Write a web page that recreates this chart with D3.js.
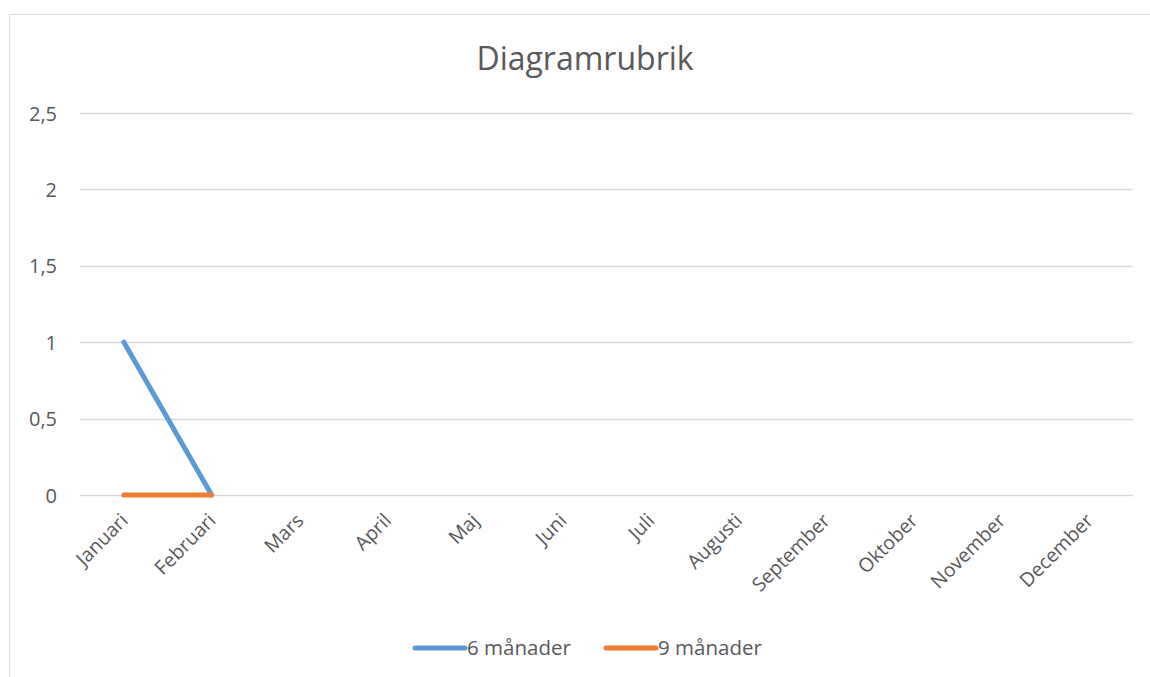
<!DOCTYPE html>
<html>
<head>
<meta charset="utf-8">
<script src="https://cdn.jsdelivr.net/npm/d3@7"></script>
<style>
  body { margin: 0; background: #fff; }
  text { font-family: "Open Sans", sans-serif; fill: #595959; }
</style>
</head>
<body>
<svg id="chart" width="1150" height="677"></svg>
<script>
var months = ["Januari", "Februari", "Mars", "April", "Maj", "Juni", "Juli",
              "Augusti", "September", "Oktober", "November", "December"];
var sex = [1, 0, null, null, null, null, null, null, null, null, null, null];
var nio = [0, 0, null, null, null, null, null, null, null, null, null, null];
var yticks = [0, 0.5, 1, 1.5, 2, 2.5];
var seriesNames = ["6 månader", "9 månader"];
var colors = ["#5B9BD5", "#ED7D31"];

var svg = d3.select("#chart");
var mLeft = 80, mRight = 1133, mTop = 113, mBottom = 495;

// chart frame
svg.append("rect")
    .attr("x", 9.5).attr("y", 14.5)
    .attr("width", 1150).attr("height", 700)
    .attr("fill", "none").attr("stroke", "#D9D9D9").attr("stroke-width", 1);

var x = d3.scalePoint().domain(months).range([mLeft, mRight]).padding(0.5);
var y = d3.scaleLinear().domain([0, 2.5]).range([mBottom, mTop]);
var fmt = function(d) { return String(d).replace(".", ","); };

// gridlines
svg.append("g").selectAll("line").data(yticks).join("line")
    .attr("x1", mLeft).attr("x2", mRight)
    .attr("y1", function(d) { return Math.round(y(d)) + 0.5; })
    .attr("y2", function(d) { return Math.round(y(d)) + 0.5; })
    .attr("stroke", "#D9D9D9").attr("stroke-width", 1.5);

var yAxis = svg.append("g")
    .attr("transform", "translate(" + (mLeft - 23) + ",0)")
    .call(d3.axisLeft(y).tickValues(yticks).tickFormat(fmt).tickSize(0));
yAxis.select(".domain").remove();
yAxis.selectAll("text").style("font-size", "20px").attr("dy", "0.35em").attr("x", 0);

var xAxis = svg.append("g")
    .attr("transform", "translate(0," + mBottom + ")")
    .call(d3.axisBottom(x).tickSize(0));
xAxis.select(".domain").remove();
xAxis.selectAll("text")
    .style("font-size", "19.5px")
    .style("text-anchor", "end")
    .attr("dy", "0.35em")
    .attr("transform", "translate(0,22) rotate(-45)")
    .attr("y", 0).attr("x", 0);

// series
var line = d3.line()
    .defined(function(d) { return d != null; })
    .x(function(d, i) { return x(months[i]); })
    .y(function(d) { return y(d); });

[sex, nio].forEach(function(s, k) {
    svg.append("path")
        .datum(s)
        .attr("d", line)
        .attr("fill", "none")
        .attr("stroke", colors[k])
        .attr("stroke-width", 5)
        .attr("stroke-linecap", "round");
});

// title
svg.append("text")
    .attr("x", 585).attr("y", 70)
    .attr("text-anchor", "middle")
    .style("font-size", "32px")
    .text("Diagramrubrik");

// legend
var legx = [413, 604];
seriesNames.forEach(function(n, k) {
    svg.append("line")
        .attr("x1", legx[k] + 2).attr("x2", legx[k] + 52)
        .attr("y1", 648).attr("y2", 648)
        .attr("stroke", colors[k]).attr("stroke-width", 5)
        .attr("stroke-linecap", "round");
    svg.append("text")
        .attr("x", legx[k] + 54).attr("y", 655)
        .style("font-size", "20.5px")
        .text(n);
});
</script>
</body>
</html>
